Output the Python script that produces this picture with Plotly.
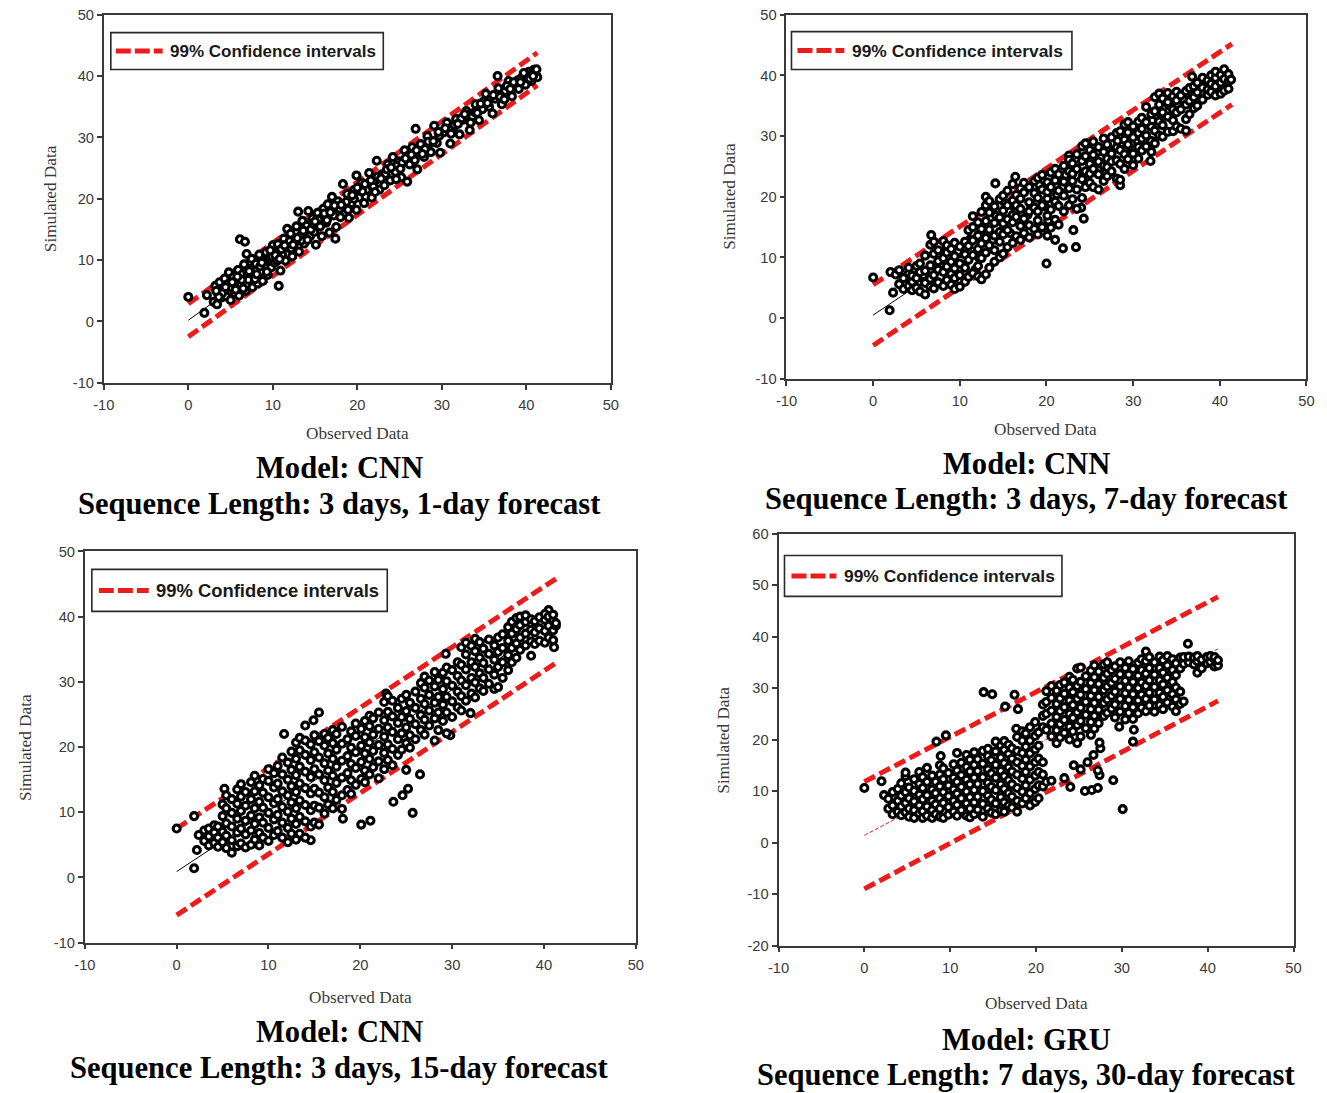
import plotly.graph_objects as go

W, H = 1327, 1093
# the viewer shows the page with an 8px body margin, shrunk to the window
VIEW_SCALE = 0.9876
VIEW_OFF_X, VIEW_OFF_Y = 8.0, 7.3
K = 1 / VIEW_SCALE  # size compensation

# ---------------- tick labels ----------------
tick_vals_xy = [-10, 0, 10, 20, 30, 40, 50]
tick_text_xy = ["-10", "0", "10", "20", "30", "40", "50"]
tick_vals_y4 = [-20, -10, 0, 10, 20, 30, 40, 50, 60]
tick_text_y4 = ["-20", "-10", "0", "10", "20", "30", "40", "50", "60"]

# ---------------- Panel 1: CNN, 3 days, 1-day forecast ----------------
p1_obs = [0.0, 1.9, 2.2, 6.1, 6.7, 10.7, 17.4, 19.9, 26.9, 36.6,
          3.0, 3.2, 3.4, 3.5, 3.7, 3.9, 4.1, 4.3, 4.5, 4.6,
          4.8, 5.0, 5.1, 5.3, 5.5, 5.7, 5.9, 6.0, 6.2, 6.4,
          6.6, 6.8, 6.9, 7.1, 7.3, 7.5, 7.6, 7.8, 8.0, 8.2,
          8.4, 8.6, 8.8, 9.0, 9.2, 9.4, 9.6, 9.8, 10.0, 10.2,
          10.4, 10.6, 10.9, 11.1, 11.3, 11.5, 11.7, 11.9, 12.1, 12.3,
          12.6, 12.8, 13.0, 13.1, 13.3, 13.5, 13.7, 14.0, 14.2, 14.4,
          14.7, 14.9, 15.1, 15.3, 15.6, 15.8, 16.0, 16.3, 16.5, 16.7,
          17.0, 17.2, 17.5, 17.7, 18.0, 18.3, 18.5, 18.8, 19.0, 19.3,
          19.6, 19.9, 20.2, 20.5, 20.8, 21.1, 21.4, 21.7, 22.0, 22.3,
          22.6, 22.9, 23.2, 23.6, 23.9, 24.2, 24.5, 24.9, 25.2, 25.6,
          25.9, 26.2, 26.5, 26.8, 27.1, 27.5, 27.9, 28.3, 28.7, 29.1,
          29.4, 29.8, 30.2, 30.6, 31.0, 31.3, 31.7, 32.1, 32.5, 32.9,
          33.3, 33.6, 34.0, 34.4, 34.8, 35.2, 35.6, 36.0, 36.3, 36.7,
          37.1, 37.5, 37.9, 38.3, 38.7, 39.1, 39.5, 39.9, 40.3, 40.6,
          40.9, 41.1, 41.3,
          4.0, 5.6, 7.0, 8.5, 9.9, 11.0, 12.0, 14.5, 15.9, 17.9,
          19.6, 20.6, 21.9, 23.3, 24.7, 26.0, 27.3, 28.5, 29.7, 30.9,
          32.3, 33.9, 35.0, 36.5, 37.7, 39.0, 40.0, 41.0, 3.6, 6.3,
          10.5, 13.4, 16.4, 18.7, 22.4, 25.3, 28.0, 31.5, 34.6, 38.1]
p1_sim = [4.0, 1.4, 4.3, 13.4, 13.0, 5.8, 13.5, 23.8, 31.4, 40.0,
          3.2, 5.8, 2.8, 4.6, 6.4, 3.9, 5.2, 7.0, 4.1, 6.0,
          8.0, 3.5, 5.5, 7.2, 4.6, 6.6, 8.4, 4.2, 5.9, 7.7,
          9.3, 5.0, 11.0, 6.8, 8.6, 10.2, 5.6, 7.5, 9.4, 6.2,
          10.9, 8.1, 6.6, 9.8, 11.3, 7.6, 10.4, 8.8, 12.4, 9.6,
          11.0, 12.6, 8.3, 10.9, 13.5, 9.9, 15.1, 12.0, 14.3, 10.6,
          12.9, 15.5, 17.9, 11.4, 14.0, 16.4, 12.7, 15.6, 18.0, 13.9,
          16.8, 14.6, 12.5, 17.7, 15.5, 13.9, 18.4, 16.1, 19.1, 14.5,
          20.3, 17.3, 15.4, 19.6, 17.0, 22.4, 18.6, 20.8, 16.9, 19.3,
          21.4, 18.2, 20.2, 22.6, 19.3, 21.4, 24.2, 20.2, 22.9, 26.2,
          21.5, 24.0, 22.2, 25.6, 23.0, 26.8, 24.4, 26.1, 23.5, 27.9,
          22.8, 25.6, 28.4, 26.3, 24.8, 28.9, 26.8, 30.2, 27.6, 31.9,
          29.1, 27.5, 30.8, 32.4, 29.0, 31.3, 33.0, 30.5, 32.9, 34.3,
          31.2, 33.4, 35.4, 32.8, 34.6, 37.1, 35.0, 33.9, 36.3, 38.0,
          35.4, 37.6, 39.2, 36.7, 38.5, 37.9, 39.8, 38.6, 40.7, 39.2,
          41.0, 40.3, 39.8,
          4.6, 5.2, 7.9, 9.0, 10.6, 11.8, 13.1, 15.0, 17.0, 18.4,
          20.0, 21.2, 22.0, 24.0, 25.4, 27.0, 27.6, 29.0, 30.3, 31.4,
          33.1, 34.1, 35.9, 37.0, 38.4, 39.3, 40.2, 40.8, 4.0, 6.8,
          9.9, 13.2, 16.5, 19.5, 23.6, 25.9, 28.1, 32.0, 35.5, 37.9]
p1_obs_more = [3.3, 4.4, 5.2, 5.8, 6.5, 7.2, 7.9, 8.7, 9.3, 9.7,
               10.3, 10.8, 11.4, 12.2, 12.9, 13.6, 14.1, 14.8, 15.4, 16.1,
               16.8, 17.3, 18.1, 18.9, 19.4, 20.0, 20.9, 21.6, 22.1, 22.8,
               23.5, 24.0, 24.6, 25.1, 25.7, 26.4, 27.0, 27.7, 28.4, 29.0,
               29.6, 30.4, 31.1, 31.9, 32.7, 33.4, 34.2, 35.4, 36.1, 36.9,
               37.4, 38.5, 39.3, 39.7, 40.4, 40.8, 41.2, 8.1, 12.4, 15.0]
p1_sim_more = [5.0, 5.6, 6.4, 7.3, 5.4, 8.2, 6.9, 9.6, 8.1, 11.6,
               10.8, 10.2, 12.4, 11.9, 13.6, 14.8, 13.3, 15.9, 16.6, 17.6,
               17.8, 18.9, 19.0, 18.2, 20.6, 21.8, 22.4, 23.0, 21.1, 23.3,
               24.8, 25.1, 23.2, 24.9, 26.6, 27.2, 27.9, 27.3, 29.3, 29.4,
               30.9, 31.5, 30.6, 32.2, 33.8, 32.4, 34.0, 35.6, 36.9, 36.6,
               36.2, 39.0, 39.0, 40.5, 39.6, 40.0, 41.1, 7.7, 12.5, 16.3]
p1_ci_x = [0.0, 41.3]
p1_ci_upper = [2.9, 43.8]
p1_ci_lower = [-2.5, 38.5]
p1_fit = [0.2, 41.1]

# ---------------- Panel 2: CNN, 3 days, 7-day forecast ----------------
p2_obs_extra = [0.0, 1.9, 2.0, 2.3, 2.6, 6.7, 13.0, 14.1, 16.4, 20.0,
                21.9, 23.4, 23.1, 24.3, 24.0, 28.5, 30.0, 32.0, 36.8, 22.6,
                4.2, 5.2, 6.2, 7.2, 8.2, 9.2, 10.2, 11.2, 12.2, 13.2,
                14.2, 15.2, 16.2, 17.2, 18.2, 19.2, 20.2, 21.2, 22.2, 23.2,
                24.2, 25.2, 26.2, 27.2, 28.2, 29.2, 30.2, 31.2, 32.2, 33.2,
                34.2, 35.2, 36.2, 37.2, 38.2, 39.2, 40.2, 11.8, 13.8, 15.8,
                17.8, 19.8, 21.8, 25.8, 29.8, 33.8, 35.8, 9.8, 7.8, 5.8]
p2_sim_extra = [6.7, 1.3, 7.6, 4.2, 7.2, 13.7, 20.0, 22.2, 23.3, 9.0,
                11.5, 11.7, 14.5, 16.4, 18.2, 21.9, 25.2, 25.9, 39.8, 26.8,
                6.3, 5.9, 6.9, 8.6, 10.9, 8.2, 10.7, 13.0, 10.0, 14.0,
                16.9, 19.0, 18.5, 20.9, 18.7, 21.9, 16.1, 20.4, 23.6, 24.4,
                23.4, 26.1, 24.6, 27.6, 29.2, 28.1, 30.4, 29.1, 32.6, 33.6,
                35.0, 35.0, 36.4, 37.1, 38.6, 39.0, 38.5, 8.0, 12.9, 14.0,
                17.0, 18.4, 21.6, 27.3, 28.7, 35.6, 36.1, 11.0, 9.5, 7.1]
p2_obs_cols = [3.0, 3.5, 4.1, 4.5, 5.0, 5.4, 6.0, 6.6, 7.0, 7.5,
               8.1, 8.5, 9.0, 9.4, 10.0, 10.6, 11.0, 11.5, 12.1, 12.5,
               13.0, 13.4, 14.0, 14.6, 15.0, 15.5, 16.1, 16.5, 17.0, 17.4,
               18.0, 18.6, 19.0, 19.5, 20.1, 20.5, 21.0, 21.4, 22.0, 22.6,
               23.0, 23.5, 24.1, 24.5, 25.0, 25.4, 26.0, 26.6, 27.0, 27.5,
               28.1, 28.5, 29.0, 29.4, 30.0, 30.6, 31.0, 31.5, 32.1, 32.5,
               33.0, 33.4, 34.0, 34.6, 35.0, 35.5, 36.1, 36.5, 37.0, 37.4,
               38.0, 38.6, 39.0, 39.5, 40.1, 40.5, 41.0, 41.3]
p2_sim_cols = [[5.6, 7.9], [6.6, 4.8], [5.3, 7.4, 8.3], [6.0, 4.6, 7.0], [5.0, 8.6, 6.6],
               [4.4, 7.6, 9.0], [3.9, 5.8, 10.3, 7.8], [5.2, 12.1, 8.7, 6.5], [4.9, 10.6, 7.1, 12.6],
               [5.9, 9.4, 11.2, 8.0], [5.3, 12.7, 7.6, 9.9], [6.3, 10.8, 8.5, 12.0], [5.5, 7.3, 11.4, 9.3],
               [4.8, 8.2, 12.4, 6.6, 10.2], [5.2, 9.0, 11.8, 7.1], [6.0, 10.5, 12.6, 8.3],
               [6.8, 9.6, 14.5, 11.9], [7.4, 12.8, 16.8, 10.4, 15.0], [6.9, 8.6, 13.6, 11.4, 15.8],
               [6.4, 9.9, 12.3, 14.7, 17.5], [7.2, 10.8, 13.2, 16.0, 18.6], [8.3, 12.0, 14.6, 17.4, 19.3],
               [9.3, 11.2, 15.7, 13.6, 18.4], [10.0, 12.6, 16.6, 19.6, 14.2], [10.6, 13.8, 17.7, 20.2, 15.6],
               [11.7, 14.5, 18.6, 16.3, 21.0], [12.4, 15.8, 19.4, 17.0, 22.1], [13.5, 16.7, 20.3, 18.6],
               [12.9, 15.2, 21.4, 18.0, 19.7], [14.0, 16.4, 20.7, 22.3], [13.3, 17.6, 19.1, 21.6, 15.3],
               [14.7, 18.2, 20.6, 22.6], [13.8, 16.1, 19.8, 23.1, 17.6], [15.0, 18.6, 21.2, 23.6],
               [13.6, 16.9, 19.7, 22.4, 20.8], [14.9, 17.9, 21.6, 24.0], [12.9, 16.2, 19.2, 22.7, 24.6],
               [15.4, 18.5, 21.0, 23.7], [17.6, 20.2, 22.5, 25.1], [18.6, 21.4, 24.2, 26.1],
               [19.6, 22.6, 25.5, 23.8], [18.0, 21.2, 24.6, 27.0], [19.8, 22.9, 25.9, 28.3],
               [21.6, 24.2, 26.7, 28.8], [22.3, 25.4, 27.7, 23.8], [21.6, 24.6, 26.9, 29.1],
               [21.2, 23.7, 25.8, 28.2], [22.6, 25.1, 27.4, 29.6], [23.4, 26.3, 28.6, 24.9],
               [24.2, 27.1, 29.8, 25.8], [23.0, 26.0, 28.1, 30.5], [22.8, 25.4, 27.7, 30.8],
               [24.6, 27.0, 29.4, 31.9], [26.2, 28.6, 30.6, 32.3], [27.1, 29.8, 31.6],
               [26.3, 28.2, 30.5, 32.4], [27.6, 29.6, 31.2, 33.0], [28.3, 30.1, 32.3, 34.8],
               [27.4, 29.2, 31.5, 33.6], [28.8, 30.9, 34.1, 36.4], [30.1, 32.4, 35.2, 37.0],
               [29.9, 31.8, 33.9, 36.2], [30.7, 33.2, 35.6, 37.1], [30.8, 32.6, 34.4, 36.6],
               [31.6, 33.9, 35.9, 37.3], [31.2, 34.4, 36.7], [30.9, 32.8, 35.2, 37.4],
               [33.6, 35.8, 37.9], [34.6, 36.4, 38.2], [35.0, 37.2, 38.8], [36.0, 38.0, 39.6],
               [36.8, 37.7, 39.2], [37.3, 38.6, 40.0], [36.7, 38.2, 39.6, 40.6], [37.0, 38.8, 40.1],
               [37.5, 39.4, 41.0], [37.8, 39.0, 40.2], [39.3]]
p2_ci_x = [0.0, 41.4]
p2_ci_upper = [5.5, 45.2]
p2_ci_lower = [-4.5, 35.2]
p2_fit = [0.5, 40.2]

# ---------------- Panel 3: CNN, 3 days, 15-day forecast ----------------
p3_obs_extra = [0.0, 1.9, 1.9, 2.2, 2.4, 11.7, 14.0, 14.9, 15.5, 14.6,
                18.1, 20.1, 21.1, 23.6, 24.6, 25.2, 25.7, 26.5, 25.0, 29.3,
                32.0, 29.8, 40.5, 41.1, 5.2, 22.8, 18.0]
p3_sim_extra = [7.5, 9.4, 1.4, 4.2, 6.5, 22.0, 23.3, 24.1, 25.3, 5.7,
                9.0, 8.1, 8.7, 11.6, 12.6, 13.6, 9.9, 15.8, 16.5, 34.3,
                25.2, 21.8, 41.0, 35.3, 13.6, 28.2, 10.5]
p3_obs_cols = [3.0, 3.5, 4.1, 4.5, 5.0, 5.4, 6.0, 6.6, 7.0, 7.5,
               8.1, 8.5, 9.0, 9.4, 10.0, 10.6, 11.0, 11.5, 12.1, 12.5,
               13.0, 13.4, 14.0, 14.6, 15.0, 15.5, 16.1, 16.5, 17.0, 17.4,
               18.0, 18.6, 19.0, 19.5, 20.1, 20.5, 21.0, 21.4, 22.0, 22.6,
               23.0, 23.5, 24.1, 24.5, 25.0, 25.4, 26.0, 26.6, 27.0, 27.5,
               28.1, 28.5, 29.0, 29.4, 30.0, 30.6, 31.0, 31.5, 32.1, 32.5,
               33.0, 33.4, 34.0, 34.6, 35.0, 35.5, 36.1, 36.5, 37.0, 37.4,
               38.0, 38.6, 39.0, 39.5, 40.1, 40.5, 41.0, 41.3]
p3_sim_cols = [[5.6, 7.2], [4.9, 6.3, 7.5], [5.3, 6.9, 8.0], [4.7, 6.1, 7.8], [5.4, 7.0, 9.4, 11.2],
               [4.5, 6.4, 8.3, 10.6, 12.6], [3.8, 5.7, 7.8, 9.9, 12.0], [4.8, 6.9, 9.0, 11.3, 13.5],
               [5.2, 7.5, 10.2, 12.4, 14.3], [4.6, 6.6, 8.7, 11.0, 13.1], [5.0, 7.2, 9.5, 12.0, 14.6],
               [5.8, 8.2, 10.6, 13.2, 15.6], [4.9, 6.8, 9.2, 11.6, 14.1], [6.1, 8.4, 10.7, 13.0, 15.1],
               [5.6, 7.6, 9.9, 12.3, 14.8, 16.6], [6.5, 8.9, 11.4, 13.8, 16.0], [7.1, 9.6, 12.0, 14.4, 17.1],
               [6.1, 8.4, 10.8, 13.2, 15.8, 18.4], [5.4, 7.6, 10.1, 12.6, 15.0, 17.6],
               [6.7, 9.0, 11.5, 14.0, 16.5, 19.3], [5.8, 8.2, 10.6, 13.1, 15.7, 18.2, 20.7],
               [6.7, 9.3, 11.8, 14.4, 17.0, 19.5, 21.4], [6.1, 8.6, 11.1, 13.7, 16.2, 18.8, 21.0],
               [7.8, 10.3, 12.9, 15.4, 18.0, 20.4], [8.4, 11.0, 13.6, 16.6, 19.2, 21.8],
               [8.1, 10.7, 13.0, 15.8, 18.4, 20.9], [9.8, 12.3, 14.9, 17.5, 20.2, 22.0],
               [11.2, 13.8, 16.4, 19.0, 21.4], [10.6, 13.1, 15.6, 18.2, 20.6, 22.6],
               [11.9, 14.5, 17.0, 19.6, 22.0], [12.6, 15.3, 17.9, 20.5, 23.1], [13.4, 16.0, 18.6, 21.2],
               [12.8, 14.9, 17.4, 19.9, 22.4], [14.2, 16.8, 19.2, 21.7, 23.6], [15.1, 17.7, 20.2, 22.8],
               [14.6, 16.4, 19.0, 21.5, 24.0], [15.8, 18.2, 20.7, 23.2, 24.8], [16.9, 19.4, 21.9, 24.4],
               [15.2, 17.8, 20.3, 22.8, 25.3], [16.6, 19.1, 21.6, 24.1, 26.9], [18.0, 20.4, 23.0, 25.4, 27.8],
               [17.2, 19.7, 22.3, 24.7, 27.1], [18.8, 21.2, 23.7, 26.0], [19.6, 22.1, 24.6, 27.4],
               [20.6, 23.0, 25.5, 28.0], [19.9, 21.8, 24.3, 26.8], [21.2, 23.5, 26.0, 28.5],
               [22.6, 24.9, 27.4, 29.8], [21.9, 24.2, 26.6, 29.1, 30.8], [23.3, 25.6, 28.0, 30.2],
               [21.0, 24.4, 26.8, 29.3, 31.5], [22.6, 25.3, 27.7, 30.3], [24.0, 26.5, 28.9, 31.4],
               [22.1, 25.3, 27.7, 30.1, 32.2], [24.6, 27.0, 29.4, 31.8], [26.1, 28.5, 30.9, 33.0],
               [25.6, 27.8, 30.2, 32.6, 35.3], [27.1, 29.5, 31.9, 34.2, 36.0], [28.2, 30.6, 33.0, 35.5],
               [27.6, 29.9, 32.3, 34.7, 36.6], [29.0, 31.3, 33.7, 36.1], [28.6, 30.6, 32.9, 35.1],
               [29.7, 31.9, 34.3, 36.5], [28.9, 31.1, 33.4, 35.6], [29.2, 32.3, 34.6, 36.8],
               [30.6, 33.0, 35.2, 37.3], [31.8, 34.1, 36.3, 38.4], [33.0, 35.2, 37.4, 39.2],
               [33.7, 35.9, 38.1, 39.8], [34.9, 36.8, 38.7, 40.0], [35.6, 37.4, 39.2, 40.2],
               [34.0, 36.2, 38.0, 39.6], [35.8, 37.6, 39.3], [36.3, 38.2, 39.9], [36.0, 37.8, 39.5, 40.4],
               [36.8, 38.6, 40.0], [36.4, 37.9, 39.4, 40.3], [38.6, 39.0]]
p3_ci_x = [0.0, 41.4]
p3_ci_upper = [7.5, 45.9]
p3_ci_lower = [-5.8, 33.0]
p3_fit = [0.9, 39.4]

# ---------------- Panel 4: GRU, 7 days, 30-day forecast ----------------
p4_obs_extra = [0.0, 2.0, 2.3, 8.4, 9.5, 8.9, 13.9, 14.9, 16.4, 17.5,
                17.9, 17.7, 23.3, 24.0, 24.4, 25.7, 26.5, 27.2, 27.4, 27.2,
                29.0, 30.1, 27.5, 27.4, 31.3, 31.4, 29.7, 37.7, 41.0, 25.2,
                26.0, 26.7]
p4_sim_extra = [10.6, 11.9, 9.2, 19.6, 20.8, 16.8, 29.2, 28.8, 26.4, 28.7,
                25.9, 22.1, 12.5, 10.8, 15.0, 10.0, 10.2, 10.6, 13.1, 14.0,
                12.1, 6.5, 18.3, 19.4, 19.6, 21.9, 22.5, 38.6, 34.5, 14.2,
                15.6, 17.0]
p4_obs_cols = [2.8, 3.3, 3.9, 4.3, 4.8, 5.2, 5.8, 6.4, 6.8, 7.3,
               7.9, 8.3, 8.8, 9.2, 9.8, 10.4, 10.8, 11.3, 11.9, 12.3,
               12.8, 13.2, 13.8, 14.4, 14.8, 15.3, 15.9, 16.3, 16.8, 17.2,
               17.8, 18.4, 18.8, 19.3, 19.9, 20.3, 20.8, 21.2, 21.8, 22.4,
               22.8, 23.3, 23.9, 24.3, 24.8, 25.2, 25.8, 26.4, 26.8, 27.3,
               27.9, 28.3, 28.8, 29.2, 29.8, 30.4, 30.8, 31.3, 31.9, 32.3,
               32.8, 33.2, 33.8, 34.4, 34.8, 35.3, 35.9, 36.3, 36.8, 37.2,
               37.8, 38.4, 38.8, 39.3, 39.9, 40.3, 40.8, 41.2]
p4_sim_cols = [[6.6, 8.5], [5.5, 7.2, 9.8], [6.0, 8.1, 10.4], [5.3, 7.0, 9.1, 11.5],
               [5.9, 7.7, 9.8, 12.9, 13.6], [5.0, 6.6, 8.6, 10.7], [4.8, 6.3, 8.0, 10.0, 12.3],
               [5.6, 7.2, 9.3, 11.4, 13.7], [4.8, 6.1, 8.4, 10.6, 12.7], [5.2, 7.0, 9.2, 11.8, 14.5],
               [4.8, 6.3, 8.1, 10.3, 13.0], [5.5, 7.4, 9.6, 11.8], [5.0, 6.6, 8.6, 10.9, 13.2, 15.0],
               [4.8, 7.7, 9.8, 12.3, 14.4], [5.4, 6.9, 9.0, 11.1, 13.5], [6.0, 8.1, 10.3, 12.6, 15.2],
               [5.2, 7.3, 9.5, 11.8, 14.0, 17.4], [6.3, 8.6, 10.8, 13.1, 15.5],
               [5.2, 7.6, 9.9, 12.2, 14.7, 17.0], [4.9, 6.6, 8.8, 11.3, 13.8, 16.1],
               [5.5, 7.8, 10.2, 12.6, 15.1, 17.5], [6.4, 8.9, 11.4, 13.9, 16.2],
               [5.0, 7.5, 10.0, 12.7, 15.3, 17.8], [6.6, 9.1, 11.6, 14.2, 16.8, 18.2],
               [5.8, 8.3, 10.8, 13.4, 16.0], [5.5, 7.6, 10.2, 12.6, 15.1, 17.7, 19.6],
               [6.2, 8.8, 11.3, 13.9, 16.5, 18.8], [6.0, 7.8, 10.4, 12.9, 15.4, 18.0, 19.7],
               [7.2, 9.6, 12.1, 14.6, 17.2, 19.0], [6.8, 8.9, 11.3, 13.8, 16.3, 18.3],
               [6.0, 8.1, 10.6, 13.2, 15.6, 17.8, 20.5], [7.6, 9.9, 12.4, 14.9, 17.4, 19.8, 21.6],
               [8.6, 11.1, 13.7, 16.1, 18.6, 21.2], [7.2, 9.6, 12.2, 14.8, 17.3, 19.8, 22.4],
               [7.9, 10.4, 13.0, 15.6, 18.1, 20.7, 23.4], [8.6, 11.1, 13.7, 16.3, 18.8, 21.4],
               [10.9, 13.2, 15.6, 22.4, 24.6, 26.8], [11.8, 25.0, 27.3, 29.4, 21.9],
               [12.0, 20.6, 23.1, 25.6, 28.1, 30.4], [19.3, 21.8, 24.4, 26.9, 29.5],
               [20.4, 23.0, 25.5, 28.0, 30.6], [21.3, 23.8, 26.3, 28.9, 31.1],
               [20.0, 22.5, 25.0, 27.6, 30.1, 32.2], [21.6, 24.2, 26.7, 29.2, 31.6],
               [19.3, 22.8, 25.3, 27.9, 30.4, 33.8], [20.6, 23.6, 26.2, 28.7, 31.2, 34.0],
               [22.2, 24.8, 27.3, 29.8, 32.3], [20.9, 23.4, 25.9, 28.5, 31.0, 33.4],
               [22.1, 24.6, 27.1, 29.6, 32.1, 34.4], [23.2, 25.8, 28.3, 30.8, 33.2],
               [24.6, 27.1, 29.6, 32.0, 34.6], [25.2, 27.8, 30.3, 32.8, 35.0], [26.0, 28.5, 31.0, 33.5],
               [24.3, 26.8, 29.3, 31.8, 34.2], [25.4, 27.9, 30.3, 32.7, 35.0],
               [23.9, 26.5, 29.0, 31.4, 33.9], [25.2, 27.7, 30.1, 32.6, 35.2],
               [24.0, 26.3, 28.8, 31.2, 33.7], [25.1, 27.6, 30.0, 32.4, 34.9],
               [26.2, 28.7, 31.1, 33.5, 35.6], [25.5, 27.9, 30.4, 32.8, 35.2, 37.1],
               [26.6, 29.1, 31.5, 33.9, 36.0], [25.4, 27.8, 30.2, 32.6, 35.0],
               [26.7, 29.1, 31.5, 33.9, 36.1], [25.9, 28.3, 30.7, 33.0, 35.4],
               [27.2, 29.6, 32.0, 34.4, 36.2], [26.4, 28.8, 31.2, 33.5, 35.6],
               [25.5, 27.8, 30.1, 32.5, 34.8], [26.9, 29.3, 33.8, 35.9], [27.4, 34.7, 36.0],
               [35.0, 36.1], [34.6, 35.9], [33.0, 35.2, 36.2], [33.8, 35.5], [34.8, 36.0],
               [35.1, 36.2], [34.2, 35.6, 36.0], [34.4, 35.4]]
p4_ci_x = [0.0, 41.2]
p4_ci_upper = [11.8, 47.7]
p4_ci_lower = [-9.0, 27.5]
p4_fit = [1.4, 37.6]


def expand(obs_cols, sim_cols, obs_extra, sim_extra):
    xs, ys = list(obs_extra), list(sim_extra)
    for xo, col in zip(obs_cols, sim_cols):
        for v in col:
            xs.append(xo)
            ys.append(v)
    return xs, ys


p1_x = p1_obs + p1_obs_more
p1_y = p1_sim + p1_sim_more
p2_x, p2_y = expand(p2_obs_cols, p2_sim_cols, p2_obs_extra, p2_sim_extra)
p3_x, p3_y = expand(p3_obs_cols, p3_sim_cols, p3_obs_extra, p3_sim_extra)
p4_x, p4_y = expand(p4_obs_cols, p4_sim_cols, p4_obs_extra, p4_sim_extra)

# ---------------- figure ----------------
RED = "#ec1c1c"
fig = go.Figure()

panels = [
    ("x", "y", p1_x, p1_y, p1_ci_x, p1_ci_upper, p1_ci_lower, p1_fit, "black"),
    ("x2", "y2", p2_x, p2_y, p2_ci_x, p2_ci_upper, p2_ci_lower, p2_fit, "black"),
    ("x3", "y3", p3_x, p3_y, p3_ci_x, p3_ci_upper, p3_ci_lower, p3_fit, "black"),
    ("x4", "y4", p4_x, p4_y, p4_ci_x, p4_ci_upper, p4_ci_lower, p4_fit, RED),
]

for xa, ya, ox, sy, cx, cu, cl, fit, fitcol in panels:
    for cy in (cu, cl):
        fig.add_trace(go.Scatter(x=cx, y=cy, xaxis=xa, yaxis=ya, mode="lines",
                                 line=dict(color=RED, width=5, dash="12px,5px"),
                                 showlegend=False, hoverinfo="skip"))
    fig.add_trace(go.Scatter(x=cx, y=fit, xaxis=xa, yaxis=ya, mode="lines",
                             line=dict(color=fitcol, width=1,
                                       dash="solid" if fitcol == "black" else "4px,2px"),
                             showlegend=False, hoverinfo="skip"))
    fig.add_trace(go.Scatter(x=ox, y=sy, xaxis=xa, yaxis=ya, mode="markers",
                             marker=dict(symbol="circle", size=7, color="white",
                                         line=dict(color="black", width=3.1)),
                             showlegend=False))


def px(x):
    # target screen pixel -> paper fraction
    return ((x - VIEW_OFF_X) / VIEW_SCALE) / W


def py(y):
    return 1 - ((y - VIEW_OFF_Y) / VIEW_SCALE) / H


axis_common = dict(showline=True, linecolor="#3a3a3a", linewidth=1.8, mirror=True,
                   ticks="outside", ticklen=5, tickwidth=1.5, tickcolor="#3a3a3a",
                   showgrid=False, zeroline=False, tickmode="array",
                   tickfont=dict(family="Liberation Sans, Arial", size=14.5 * K, color="#3a3a3a"))

boxes = [
    # (x0, x1, ytop, ybottom) in screen pixels
    (101, 609, 14, 383),
    (785, 1306, 14, 379),
    (82, 634, 552, 944),
    (777, 1293, 534, 947),
]
suffix = ["", "2", "3", "4"]
for i, (x0, x1, yt, yb) in enumerate(boxes):
    s = suffix[i]
    xax = dict(axis_common, domain=[px(x0), px(x1)], range=[-10, 50],
               tickvals=tick_vals_xy, ticktext=tick_text_xy, anchor="y" + s,
               ticklabelstandoff=3)
    if i == 3:
        yax = dict(axis_common, domain=[py(yb), py(yt)], range=[-20, 60],
                   tickvals=tick_vals_y4, ticktext=tick_text_y4, anchor="x" + s)
    else:
        yax = dict(axis_common, domain=[py(yb), py(yt)], range=[-10, 50],
                   tickvals=tick_vals_xy, ticktext=tick_text_xy, anchor="x" + s)
    fig.layout["xaxis" + s] = xax
    fig.layout["yaxis" + s] = yax

annotations = []
shapes = []

serif = "Liberation Serif, Times New Roman, serif"
sans = "Liberation Sans, Arial, sans-serif"

# axis titles
xtitle_pos = [(355, 434), (1045, 430), (358, 999), (1035, 1005)]
ytitle_pos = [(47, 198), (728, 196), (22, 748), (721, 741)]
for (x, y) in xtitle_pos:
    annotations.append(dict(text="Observed Data", x=px(x), y=py(y), xref="paper", yref="paper",
                            showarrow=False, xanchor="center", yanchor="middle",
                            font=dict(family=serif, size=17 * K, color="#3a3a3a")))
for (x, y) in ytitle_pos:
    annotations.append(dict(text="Simulated Data", x=px(x), y=py(y), xref="paper", yref="paper",
                            showarrow=False, xanchor="center", yanchor="middle", textangle=-90,
                            font=dict(family=serif, size=17 * K, color="#3a3a3a")))

# panel captions
model_names = ["Model: CNN", "Model: CNN", "Model: CNN", "Model: GRU"]
seq_texts = ["Sequence Length: 3 days, 1-day forecast",
             "Sequence Length: 3 days, 7-day forecast",
             "Sequence Length: 3 days, 15-day forecast",
             "Sequence Length: 7 days, 30-day forecast"]
cap_pos = [(337, 468, 504), (1025, 464, 499), (337, 1034, 1070), (1025, 1042, 1077)]
for name, seq, (cx, y1, y2) in zip(model_names, seq_texts, cap_pos):
    annotations.append(dict(text="<b>%s</b>" % name, x=px(cx), y=py(y1), xref="paper", yref="paper",
                            showarrow=False, xanchor="center", yanchor="middle",
                            font=dict(family=serif, size=30.2 * K, color="black")))
    annotations.append(dict(text="<b>%s</b>" % seq, x=px(cx), y=py(y2), xref="paper", yref="paper",
                            showarrow=False, xanchor="center", yanchor="middle",
                            font=dict(family=serif, size=30.2 * K, color="black")))

# legend boxes
legend_geo = [
    # box x0, y0, x1, y1, sample x0, x1, text x, font size (screen pixels)
    (108, 32, 381, 69, 113, 160, 165, 16.8),
    (790, 31, 1071, 69, 796, 843, 849, 17.2),
    (89, 570, 385, 612, 96, 146, 151, 18.2),
    (783, 556, 1061, 597, 790, 835, 841, 17.2),
]
for (bx0, by0, bx1, by1, sx0, sx1, tx, fs) in legend_geo:
    ym = (by0 + by1) / 2
    shapes.append(dict(type="rect", xref="paper", yref="paper",
                       x0=px(bx0), x1=px(bx1), y0=py(by1), y1=py(by0),
                       line=dict(color="#2a2a2a", width=1.6), fillcolor="white"))
    shapes.append(dict(type="line", xref="paper", yref="paper",
                       x0=px(sx0), x1=px(sx1), y0=py(ym), y1=py(ym),
                       line=dict(color=RED, width=5, dash="15px,4px")))
    annotations.append(dict(text="<b>99% Confidence intervals</b>", x=px(tx), y=py(ym),
                            xref="paper", yref="paper", showarrow=False,
                            xanchor="left", yanchor="middle",
                            font=dict(family=sans, size=fs * K, color="#1a1a1a")))

fig.update_layout(width=W, height=H, margin=dict(l=0, r=0, t=0, b=0),
                  paper_bgcolor="white", plot_bgcolor="white",
                  showlegend=False, annotations=annotations, shapes=shapes)

fig.write_html("out.html", include_plotlyjs=True, full_html=True,
               config={"displayModeBar": False})
